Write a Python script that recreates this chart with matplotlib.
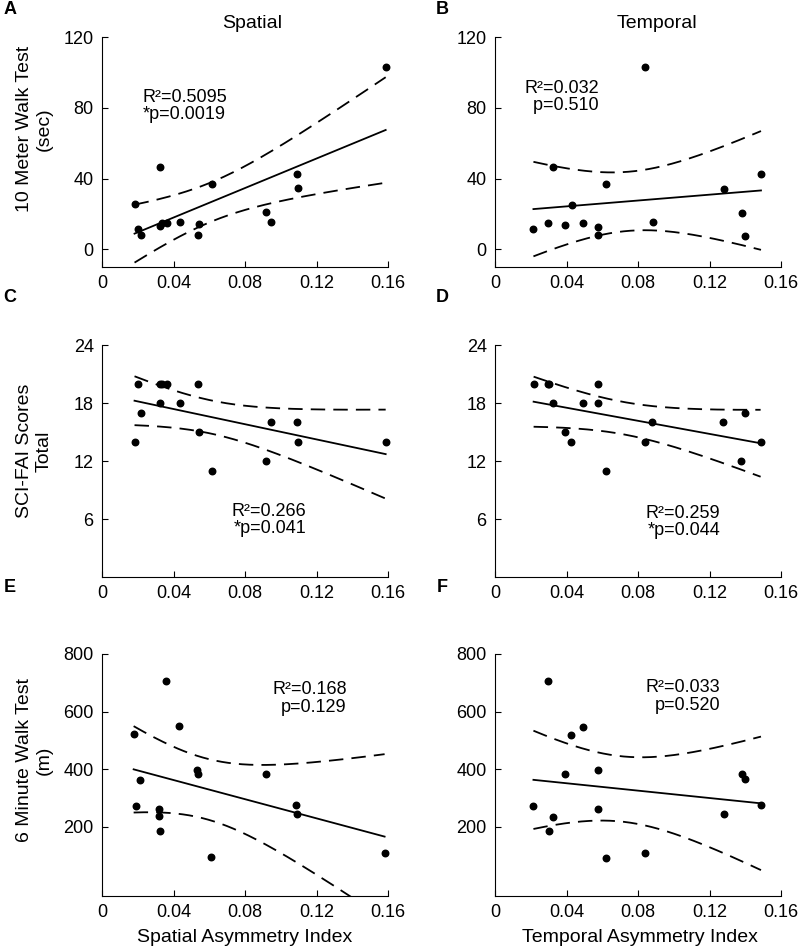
import numpy as np
import matplotlib
matplotlib.use("Agg")
import matplotlib.pyplot as plt

plt.rcParams['font.family'] = ['Liberation Sans', 'DejaVu Sans']

# Spatial asymmetry index vs outcomes
spa_x_walk = [0.0182, 0.0199, 0.0220, 0.0325, 0.0323, 0.0334, 0.0362, 0.0437,
              0.0541, 0.0535, 0.0618, 0.0920, 0.0948, 0.1091, 0.1099, 0.1587]
spa_y_walk = [25.5, 11.3, 7.9, 46.7, 13.0, 14.9, 14.9, 15.3,
              14.4, 8.1, 36.9, 21.2, 15.5, 42.4, 34.6, 103.1]

spa_x_fai = [0.0182, 0.0199, 0.0220, 0.0323, 0.0325, 0.0334, 0.0362, 0.0437,
             0.0535, 0.0541, 0.0618, 0.0920, 0.0948, 0.1091, 0.1099, 0.1587]
spa_y_fai = [14, 20, 17, 18, 20, 20, 20, 18,
             20, 15, 11, 12, 16, 16, 14, 14]

spa_x_6mwt = [0.0177, 0.0193, 0.0214, 0.0317, 0.0317, 0.0327, 0.0357, 0.0432,
              0.0530, 0.0535, 0.0612, 0.0915, 0.1085, 0.1093, 0.1581]
spa_y_6mwt = [522, 273, 364, 263, 236, 184, 706, 551,
              398, 385, 95, 385, 275, 246, 109]

# Temporal asymmetry index vs outcomes
tmp_x_walk = [0.0215, 0.0297, 0.0325, 0.0394, 0.0428, 0.0494, 0.0575, 0.0575,
              0.0620, 0.0837, 0.0884, 0.1279, 0.1381, 0.1401, 0.1488]
tmp_y_walk = [11.2, 14.6, 46.4, 14.0, 25.0, 15.0, 12.5, 8.0,
              36.8, 103.1, 15.2, 34.3, 20.7, 7.8, 42.3]

tmp_x_fai = [0.0216, 0.0296, 0.0300, 0.0325, 0.0394, 0.0426, 0.0494, 0.0575,
             0.0575, 0.0620, 0.0837, 0.0880, 0.1274, 0.1379, 0.1401, 0.1486]
tmp_y_fai = [20, 20, 20, 18, 15, 14, 18, 20,
             18, 11, 14, 16, 16, 12, 17, 14]

tmp_x_6mwt = [0.0215, 0.0297, 0.0304, 0.0325, 0.0394, 0.0426, 0.0494, 0.0575,
              0.0575, 0.0620, 0.0837, 0.1279, 0.1381, 0.1401, 0.1488]
tmp_y_6mwt = [271, 705, 184, 235, 384, 520, 547, 396,
              262, 93, 108, 245, 384, 365, 276]

stats_text = ["R²=0.5095\n*p=0.0019", "R²=0.032\n p=0.510",
              "R²=0.266\n*p=0.041", "R²=0.259\n*p=0.044",
              "R²=0.168\np=0.129", "R²=0.033\np=0.520"]

# critical value for the band around the fitted line
CRIT = 2.576


def fit_band(ax, x, y):
    x = np.asarray(x)
    y = np.asarray(y)
    n = len(x)
    b, a = np.polyfit(x, y, 1)
    resid = y - (a + b * x)
    s = np.sqrt(np.sum(resid ** 2) / (n - 2))
    sxx = np.sum((x - x.mean()) ** 2)
    xs = np.linspace(x.min(), x.max(), 200)
    yf = a + b * xs
    hw = CRIT * s * np.sqrt(1.0 / n + (xs - x.mean()) ** 2 / sxx)
    ax.plot(xs, yf, color='black', lw=1.3)
    ax.plot(xs, yf + hw, color='black', lw=1.3, ls=(0, (8, 4.5)))
    ax.plot(xs, yf - hw, color='black', lw=1.3, ls=(0, (8, 4.5)))


def style(ax, ylim, yticks):
    ax.set_xlim(0, 0.16)
    ax.set_ylim(*ylim)
    ax.set_xticks([0, 0.04, 0.08, 0.12, 0.16])
    ax.set_xticklabels(['0', '0.04', '0.08', '0.12', '0.16'])
    ax.set_yticks(yticks)
    ax.spines['top'].set_visible(False)
    ax.spines['right'].set_visible(False)
    ax.tick_params(direction='in', length=4, labelsize=13, pad=6)


fig = plt.figure(figsize=(8, 9.49), dpi=100)

W, H = 800.0, 949.0
lefts = [102, 495]
width = 286
rows = [(37, 267), (345, 577), (654, 896)]

panels = [
    (spa_x_walk, spa_y_walk, (-10, 120), [0, 40, 80, 120]),
    (tmp_x_walk, tmp_y_walk, (-10, 120), [0, 40, 80, 120]),
    (spa_x_fai, spa_y_fai, (0, 24), [6, 12, 18, 24]),
    (tmp_x_fai, tmp_y_fai, (0, 24), [6, 12, 18, 24]),
    (spa_x_6mwt, spa_y_6mwt, (-40, 800), [200, 400, 600, 800]),
    (tmp_x_6mwt, tmp_y_6mwt, (-40, 800), [200, 400, 600, 800]),
]
text_pos = [(0.0225, 81, 'left'), (0.0582, 86, 'right'),
            (0.1144, 5.9, 'right'), (0.1259, 5.7, 'right'),
            (0.1369, 646, 'right'), (0.1259, 653, 'right')]

axes = []
for i, (x, y, ylim, yt) in enumerate(panels):
    r, c = divmod(i, 2)
    top, bot = rows[r]
    ax = fig.add_axes([lefts[c] / W, 1 - bot / H, width / W, (bot - top) / H])
    ax.scatter(x, y, s=22, color='black', zorder=3, clip_on=False)
    fit_band(ax, x, y)
    style(ax, ylim, yt)
    tx, ty, ha = text_pos[i]
    ax.text(tx, ty, stats_text[i], ha=ha, va='center', fontsize=13,
            linespacing=1.05)
    axes.append(ax)

# titles and panel letters
fig.text(252 / W, 1 - 23 / H, 'Spatial', ha='center', va='center', fontsize=14)
fig.text(657 / W, 1 - 23 / H, 'Temporal', ha='center', va='center', fontsize=14)
for letter, (px, py) in zip('ABCDEF', [(10, 10), (442, 10), (10, 297),
                                       (442, 297), (10, 588), (442, 588)]):
    fig.text(px / W, 1 - py / H, letter, ha='center', va='center',
             fontsize=13, fontweight='bold')

ylabels = ['10 Meter Walk Test\n(sec)', 'SCI-FAI Scores\nTotal',
           '6 Minute Walk Test\n(m)']
for lab, yc in zip(ylabels, [129, 451, 760]):
    fig.text(34 / W, 1 - yc / H, lab, rotation=90, ha='center', va='center',
             fontsize=14, linespacing=1.2)

fig.text(245 / W, 1 - 937 / H, 'Spatial Asymmetry Index', ha='center',
         va='center', fontsize=14)
fig.text(640 / W, 1 - 937 / H, 'Temporal Asymmetry Index', ha='center',
         va='center', fontsize=14)

fig.savefig('out.png', dpi=100)
